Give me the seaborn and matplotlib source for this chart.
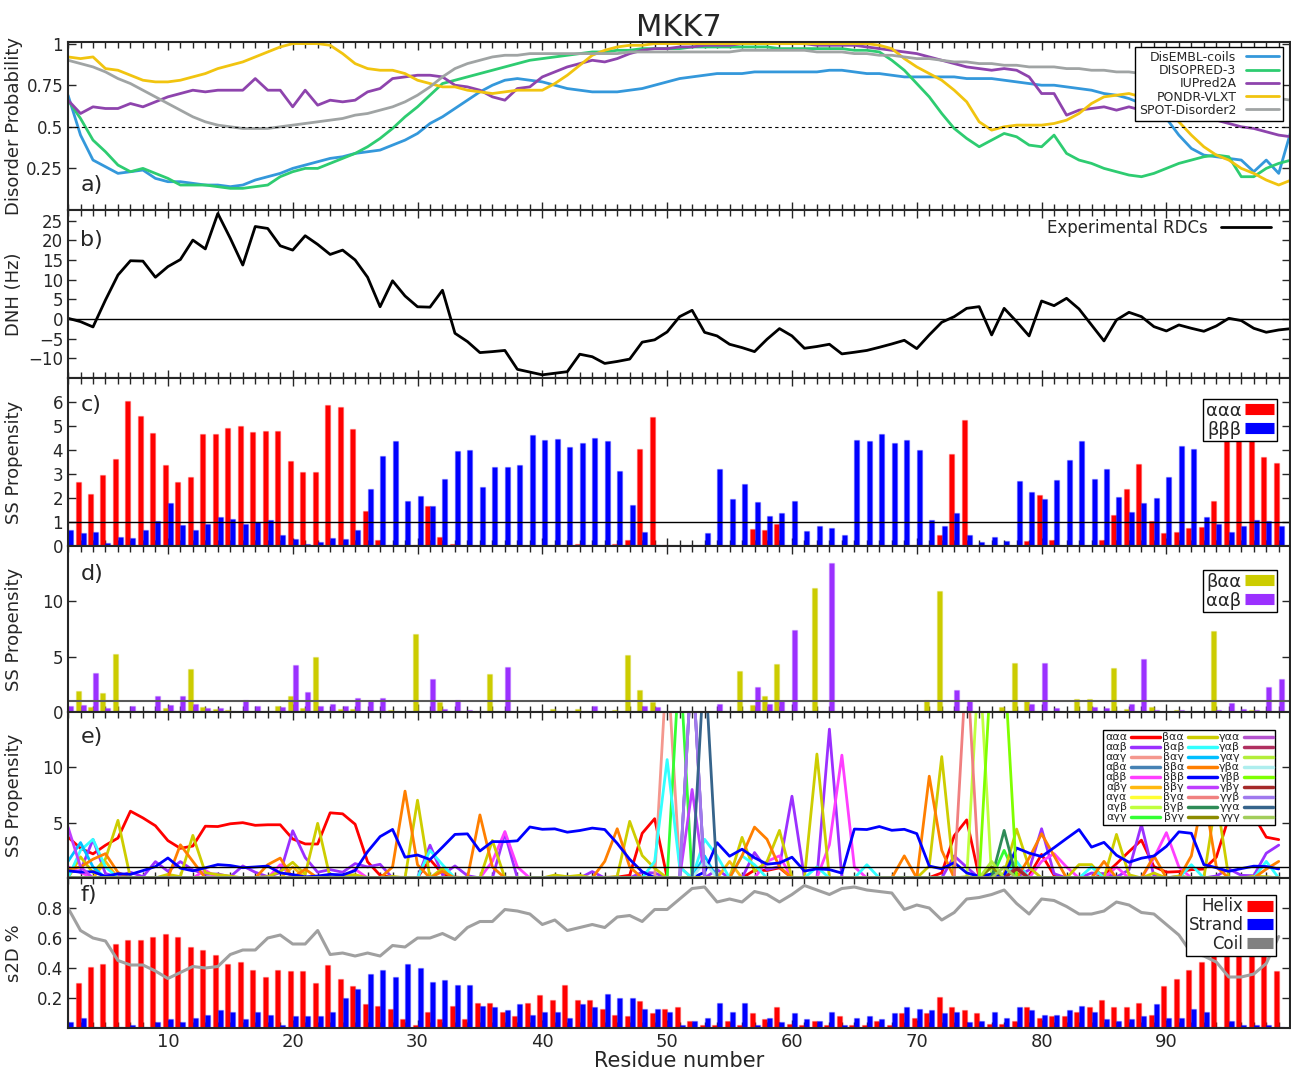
import numpy as np
import pandas as pd
import matplotlib
matplotlib.use("Agg")
import matplotlib.pyplot as plt
import seaborn as sns
from matplotlib.ticker import MultipleLocator
from matplotlib.lines import Line2D

# residue numbers
res_dis = np.arange(2, 101)   # disorder predictions and RDCs
res_ss = np.arange(2, 100)    # secondary structure propensities

# a) disorder predictors (res 2..100)
disembl = [0.69, 0.45, 0.30, 0.26, 0.22, 0.23, 0.24, 0.19, 0.17, 0.17,
           0.16, 0.15, 0.15, 0.14, 0.15, 0.18, 0.20, 0.22, 0.25, 0.27,
           0.29, 0.31, 0.32, 0.34, 0.35, 0.36, 0.39, 0.42, 0.46, 0.52,
           0.56, 0.61, 0.66, 0.71, 0.75, 0.78, 0.79, 0.78, 0.77, 0.75,
           0.73, 0.72, 0.71, 0.71, 0.71, 0.72, 0.73, 0.75, 0.77, 0.79,
           0.80, 0.81, 0.82, 0.82, 0.82, 0.83, 0.83, 0.83, 0.83, 0.83,
           0.83, 0.84, 0.84, 0.83, 0.82, 0.82, 0.81, 0.80, 0.80, 0.80,
           0.80, 0.80, 0.79, 0.79, 0.79, 0.78, 0.77, 0.76, 0.75, 0.75,
           0.74, 0.73, 0.72, 0.70, 0.69, 0.67, 0.64, 0.59, 0.55, 0.45,
           0.37, 0.33, 0.32, 0.31, 0.30, 0.23, 0.30, 0.22, 0.48]
disopred = [0.66, 0.55, 0.42, 0.35, 0.27, 0.23, 0.25, 0.22, 0.19, 0.15,
            0.15, 0.15, 0.14, 0.13, 0.13, 0.14, 0.15, 0.20, 0.23, 0.25,
            0.25, 0.28, 0.31, 0.34, 0.38, 0.43, 0.49, 0.56, 0.62, 0.69,
            0.76, 0.78, 0.80, 0.82, 0.84, 0.86, 0.88, 0.90, 0.91, 0.92,
            0.93, 0.94, 0.95, 0.95, 0.96, 0.96, 0.97, 0.97, 0.97, 0.97,
            0.98, 0.98, 0.98, 0.98, 0.98, 0.98, 0.98, 0.97, 0.97, 0.97,
            0.97, 0.97, 0.97, 0.96, 0.96, 0.95, 0.90, 0.84, 0.76, 0.68,
            0.58, 0.49, 0.43, 0.38, 0.42, 0.46, 0.44, 0.39, 0.38, 0.45,
            0.34, 0.30, 0.28, 0.25, 0.23, 0.21, 0.20, 0.22, 0.25, 0.28,
            0.30, 0.32, 0.33, 0.32, 0.20, 0.20, 0.25, 0.28, 0.30]
iupred = [0.66, 0.58, 0.62, 0.61, 0.61, 0.64, 0.62, 0.65, 0.68, 0.70,
          0.72, 0.71, 0.72, 0.72, 0.72, 0.79, 0.72, 0.72, 0.62, 0.72,
          0.63, 0.66, 0.65, 0.66, 0.71, 0.73, 0.79, 0.80, 0.81, 0.81,
          0.80, 0.75, 0.74, 0.72, 0.68, 0.66, 0.73, 0.74, 0.80, 0.83,
          0.86, 0.88, 0.90, 0.89, 0.91, 0.94, 0.96, 0.97, 0.97, 0.98,
          0.98, 0.99, 0.99, 0.99, 1.00, 1.00, 1.00, 1.00, 1.00, 1.00,
          0.99, 0.99, 0.99, 0.99, 0.98, 0.97, 0.96, 0.95, 0.94, 0.92,
          0.90, 0.88, 0.86, 0.85, 0.84, 0.85, 0.84, 0.80, 0.70, 0.70,
          0.57, 0.60, 0.61, 0.62, 0.60, 0.62, 0.60, 0.60, 0.58, 0.56,
          0.55, 0.55, 0.54, 0.52, 0.50, 0.49, 0.47, 0.45, 0.44]
pondr = [0.92, 0.91, 0.92, 0.85, 0.84, 0.81, 0.78, 0.77, 0.77, 0.78,
         0.80, 0.82, 0.85, 0.87, 0.89, 0.92, 0.95, 0.98, 1.00, 1.00,
         1.00, 0.99, 0.94, 0.88, 0.85, 0.84, 0.84, 0.82, 0.78, 0.76,
         0.74, 0.74, 0.72, 0.71, 0.70, 0.71, 0.72, 0.72, 0.72, 0.76,
         0.81, 0.87, 0.93, 0.96, 0.98, 0.99, 0.99, 1.00, 1.00, 1.00,
         1.00, 1.00, 1.00, 1.00, 1.00, 1.00, 1.00, 1.00, 1.00, 1.00,
         1.00, 1.00, 1.00, 1.00, 1.00, 0.99, 0.97, 0.91, 0.86, 0.82,
         0.78, 0.72, 0.65, 0.53, 0.48, 0.50, 0.51, 0.51, 0.51, 0.52,
         0.54, 0.58, 0.64, 0.68, 0.69, 0.70, 0.68, 0.64, 0.62, 0.53,
         0.45, 0.38, 0.33, 0.30, 0.25, 0.22, 0.18, 0.15, 0.18]
spot = [0.90, 0.88, 0.86, 0.83, 0.79, 0.76, 0.72, 0.68, 0.64, 0.60,
        0.56, 0.53, 0.51, 0.50, 0.49, 0.49, 0.49, 0.50, 0.51, 0.52,
        0.53, 0.54, 0.55, 0.57, 0.58, 0.60, 0.62, 0.65, 0.69, 0.74,
        0.80, 0.85, 0.88, 0.90, 0.92, 0.93, 0.93, 0.94, 0.94, 0.94,
        0.94, 0.94, 0.94, 0.94, 0.94, 0.95, 0.95, 0.95, 0.95, 0.95,
        0.95, 0.95, 0.95, 0.95, 0.96, 0.96, 0.96, 0.96, 0.96, 0.96,
        0.95, 0.95, 0.95, 0.94, 0.94, 0.93, 0.93, 0.92, 0.91, 0.91,
        0.90, 0.89, 0.89, 0.88, 0.88, 0.87, 0.87, 0.86, 0.86, 0.86,
        0.85, 0.85, 0.84, 0.84, 0.83, 0.83, 0.82, 0.81, 0.80, 0.79,
        0.78, 0.77, 0.75, 0.74, 0.72, 0.71, 0.69, 0.67, 0.66]
dis_names = ["DisEMBL-coils", "DISOPRED-3", "IUPred2A", "PONDR-VLXT", "SPOT-Disorder2"]
dis_colors = ["#3498db", "#2ecc71", "#8e44ad", "#f1c40f", "#a0a4a4"]

# b) experimental RDCs (res 2..100)
rdc = [0.17, -0.68, -2.03, 4.82, 11.17, 14.8, 14.7, 10.6, 13.3, 15.1,
       20.05, 17.8, 26.8, 20.5, 13.7, 23.5, 23.0, 18.6, 17.5, 21.15,
       18.95, 16.4, 17.5, 15.0, 10.6, 3.1, 9.7, 5.84, 3.1, 3.0,
       7.3, -3.64, -5.75, -8.55, -8.3, -8.0, -12.8, -13.5, -14.2, -13.8,
       -13.4, -8.96, -9.6, -11.3, -10.8, -10.2, -5.9, -5.3, -3.3, 0.59,
       2.2, -3.4, -4.31, -6.43, -7.28, -8.3, -5.16, -2.45, -4.31, -7.45,
       -7.0, -6.43, -8.88, -8.46, -8.0, -7.2, -6.35, -5.42, -7.53, -4.06,
       -0.84, 0.59, 2.7, 3.13, -4.06, 2.7, -0.68, -4.31, 4.57, 3.38,
       5.25, 2.54, -1.52, -5.58, -0.25, 1.69, 0.59, -1.95, -3.05, -1.52,
       -2.37, -3.13, -1.78, 0.17, -0.42, -2.37, -3.38, -2.79, -2.45]

# c)-e) SS propensities (res 2..99)
aaa = [3.7, 2.68, 2.18, 2.96, 3.61, 6.04, 5.43, 4.72, 3.38, 2.68,
       2.89, 4.68, 4.65, 4.90, 5.00, 4.76, 4.81, 4.81, 3.53, 3.08,
       3.07, 5.89, 5.80, 4.86, 1.46, 0.25, 0.06, 0.06, 0.05, 1.67,
       0.39, 0.08, 0.02, 0.0, 0.0, 0.0, 0.02, 0.0, 0.02, 0.04,
       0.04, 0.07, 0.03, 0.06, 0.08, 0.25, 4.04, 5.36, 0.04, 0.0,
       0.0, 0.03, 0.0, 0.0, 0.0, 0.71, 0.68, 0.92, 0.01, 0.02,
       0.03, 0.0, 0.0, 0.0, 0.0, 0.0, 0.0, 0.0, 0.03, 0.04,
       0.46, 3.82, 5.25, 0.06, 0.0, 0.0, 0.0, 0.21, 2.13, 0.24,
       0.0, 0.0, 0.0, 0.24, 1.29, 2.38, 3.42, 1.03, 0.53, 0.58,
       0.75, 0.81, 1.88, 5.5, 5.8, 5.6, 3.69, 3.47]
bbb = [0.65, 0.53, 0.57, 0.14, 0.39, 0.33, 0.67, 1.03, 1.81, 0.89,
       0.65, 0.92, 1.21, 1.13, 0.93, 1.00, 1.08, 0.46, 0.31, 0.10,
       0.18, 0.33, 0.28, 0.67, 2.38, 3.74, 4.39, 1.88, 2.08, 1.67,
       2.79, 3.94, 3.99, 2.44, 3.29, 3.28, 3.36, 4.61, 4.40, 4.44,
       4.14, 4.29, 4.51, 4.38, 3.13, 1.69, 0.57, 0.04, 0.0, 0.0,
       0.0, 0.53, 3.19, 1.97, 2.60, 1.83, 1.25, 1.36, 1.88, 0.63,
       0.83, 0.76, 0.44, 4.42, 4.38, 4.65, 4.31, 4.40, 4.01, 1.08,
       0.83, 1.39, 0.46, 0.15, 0.36, 0.19, 2.71, 2.25, 1.94, 2.74,
       3.57, 4.38, 2.79, 3.22, 2.06, 1.42, 1.79, 1.99, 2.86, 4.17,
       4.04, 1.21, 0.93, 0.60, 0.85, 1.07, 1.04, 0.82]
baa = [0.0, 1.91, 0.48, 1.73, 5.21, 0.0, 0.0, 0.0, 0.33, 0.12,
       3.85, 0.48, 0.30, 0.18, 0.0, 0.06, 0.12, 0.58, 1.42, 0.33,
       4.94, 0.0, 0.24, 0.30, 0.0, 0.0, 0.15, 0.0, 7.03, 0.0,
       0.88, 0.0, 0.0, 0.0, 3.39, 0.0, 0.0, 0.0, 0.0, 0.27,
       0.12, 0.24, 0.0, 0.0, 0.15, 5.12, 2.03, 0.88, 0.0, 0.0,
       0.0, 0.0, 0.0, 0.0, 3.67, 0.60, 1.48, 4.30, 0.0, 0.0,
       11.2, 0.0, 0.0, 0.0, 0.0, 0.0, 0.0, 0.0, 0.0, 1.09,
       10.97, 0.0, 0.12, 0.0, 0.0, 0.42, 4.42, 0.97, 0.0, 0.0,
       0.0, 1.21, 1.21, 0.0, 3.94, 0.30, 0.0, 0.45, 0.0, 0.18,
       0.0, 0.0, 7.30, 0.0, 0.0, 0.15, 0.12, 0.0]
aab = [0.52, 0.67, 3.48, 0.39, 0.12, 0.52, 0.12, 1.48, 0.61, 1.48,
       0.73, 0.33, 0.36, 0.12, 1.09, 0.52, 0.12, 0.48, 4.27, 1.85,
       0.52, 0.76, 0.52, 1.30, 1.00, 1.24, 0.0, 0.0, 0.0, 2.97,
       0.30, 1.09, 0.21, 0.0, 0.0, 4.03, 0.0, 0.0, 0.0, 0.0,
       0.09, 0.0, 0.58, 0.0, 0.0, 0.0, 0.52, 0.45, 0.0, 0.0,
       0.0, 0.0, 0.76, 0.0, 0.0, 2.30, 0.76, 1.03, 7.39, 0.0,
       0.0, 13.45, 0.0, 0.0, 0.0, 0.0, 0.0, 0.0, 0.0, 0.0,
       0.0, 2.00, 0.97, 0.0, 0.0, 0.0, 0.12, 0.73, 4.45, 0.39,
       0.0, 0.0, 0.45, 0.39, 0.09, 0.73, 4.82, 0.18, 0.0, 0.15,
       0.0, 0.0, 0.18, 0.82, 0.24, 0.21, 2.24, 2.97]

# e) remaining triplets, only the residues where they stand out (others ~0)
abb = {2: 1.0, 3: 0.5, 13: 0.7, 19: 1.2, 25: 0.8, 36: 1.5, 37: 4.2, 38: 1.0,
       58: 1.5, 59: 2.0, 63: 3.0, 64: 11.1, 65: 1.0, 80: 1.5, 81: 2.2, 82: 1.0,
       86: 1.0, 89: 1.8, 90: 4.1, 91: 1.0}
bba = {2: 0.8, 3: 1.0, 4: 1.7, 5: 2.2, 6: 0.5, 11: 3.0, 12: 1.5, 18: 1.2,
       19: 1.8, 21: 0.8, 28: 1.0, 29: 7.85, 30: 1.2, 32: 0.6, 35: 5.7, 36: 1.0,
       45: 1.5, 46: 4.45, 47: 1.0, 56: 2.0, 57: 4.6, 58: 3.5, 59: 1.0, 69: 2.0,
       71: 9.2, 72: 2.5, 79: 1.8, 80: 4.0, 81: 2.0, 85: 1.5, 89: 2.0, 92: 2.0,
       93: 7.8, 94: 1.0, 98: 0.8, 99: 1.5}
bab = {3: 2.5, 4: 3.5, 5: 1.0, 31: 2.5, 32: 1.2, 49: 1.5, 50: 10.7, 51: 1.0,
       53: 3.5, 54: 2.0, 56: 2.0, 57: 1.2, 62: 1.0, 66: 1.2, 76: 1.0, 78: 1.5,
       84: 1.0, 92: 1.2, 98: 1.5}
aag = {50: 20.0, 51: 1.0}
aba = {52: 20.0}
abg = {5: 1.5, 20: 1.0, 55: 1.5, 77: 1.0}
aga = {76: 1.0}
agb = {75: 20.0}
agg = {51: 20.0, 77: 2.5}
bag = {2: 1.5, 3: 3.2, 4: 1.0, 53: 2.0}
bbg = {2: 4.6, 3: 1.0, 52: 8.0}
bga = {74: 20.0}
bgb = {77: 4.3}
bgg = {76: 1.0}
gaa = {52: 20.0}
gab = {78: 1.0}
gag = {76: 1.5}
gba = {53: 1.5}
gbb = {76: 20.0, 77: 20.0}
gbg = {78: 0.8}
ggb = {52: 20.0}
gga = {53: 20.0}
ggg = {77: 1.0}

# f) s2D populations (res 2..99)
helix = [0.21, 0.30, 0.41, 0.43, 0.56, 0.59, 0.59, 0.61, 0.63, 0.61,
         0.54, 0.52, 0.49, 0.43, 0.44, 0.39, 0.34, 0.39, 0.38, 0.38,
         0.30, 0.42, 0.33, 0.28, 0.16, 0.15, 0.13, 0.06, 0.02, 0.11,
         0.06, 0.15, 0.06, 0.17, 0.17, 0.11, 0.08, 0.17, 0.22, 0.19,
         0.29, 0.19, 0.19, 0.13, 0.09, 0.08, 0.18, 0.10, 0.13, 0.14,
         0.05, 0.02, 0.02, 0.05, 0.02, 0.10, 0.06, 0.14, 0.03, 0.02,
         0.05, 0.02, 0.08, 0.02, 0.02, 0.05, 0.02, 0.10, 0.07, 0.10,
         0.21, 0.14, 0.12, 0.10, 0.03, 0.03, 0.05, 0.14, 0.07, 0.08,
         0.08, 0.11, 0.14, 0.19, 0.14, 0.14, 0.17, 0.09, 0.28, 0.33,
         0.39, 0.44, 0.58, 0.62, 0.64, 0.62, 0.57, 0.38]
strand = [0.04, 0.07, 0.01, 0.01, 0.01, 0.02, 0.01, 0.04, 0.06, 0.04,
          0.07, 0.09, 0.12, 0.11, 0.06, 0.11, 0.09, 0.02, 0.08, 0.08,
          0.08, 0.11, 0.20, 0.26, 0.36, 0.39, 0.34, 0.43, 0.40, 0.31,
          0.32, 0.29, 0.29, 0.15, 0.14, 0.12, 0.16, 0.09, 0.11, 0.11,
          0.07, 0.16, 0.14, 0.23, 0.20, 0.20, 0.13, 0.13, 0.11, 0.02,
          0.05, 0.07, 0.17, 0.11, 0.17, 0.02, 0.07, 0.04, 0.10, 0.06,
          0.05, 0.11, 0.02, 0.07, 0.08, 0.06, 0.10, 0.14, 0.13, 0.12,
          0.10, 0.11, 0.04, 0.05, 0.11, 0.07, 0.14, 0.12, 0.09, 0.09,
          0.12, 0.15, 0.11, 0.06, 0.05, 0.06, 0.08, 0.16, 0.07, 0.07,
          0.13, 0.11, 0.01, 0.05, 0.02, 0.02, 0.02, 0.01]
coil = [0.80, 0.65, 0.60, 0.58, 0.45, 0.42, 0.42, 0.38, 0.33, 0.37,
        0.41, 0.40, 0.41, 0.49, 0.52, 0.52, 0.60, 0.62, 0.56, 0.56,
        0.65, 0.49, 0.50, 0.48, 0.50, 0.48, 0.55, 0.54, 0.60, 0.60,
        0.63, 0.59, 0.67, 0.71, 0.71, 0.79, 0.78, 0.76, 0.69, 0.72,
        0.65, 0.67, 0.69, 0.67, 0.74, 0.75, 0.71, 0.79, 0.79, 0.86,
        0.93, 0.94, 0.84, 0.86, 0.84, 0.91, 0.89, 0.84, 0.89, 0.95,
        0.92, 0.89, 0.93, 0.94, 0.92, 0.91, 0.90, 0.79, 0.82, 0.80,
        0.72, 0.77, 0.86, 0.87, 0.89, 0.92, 0.83, 0.76, 0.86, 0.85,
        0.81, 0.76, 0.76, 0.78, 0.84, 0.82, 0.77, 0.76, 0.69, 0.62,
        0.50, 0.48, 0.44, 0.34, 0.34, 0.36, 0.43, 0.61]

sns.set_style("ticks")
plt.rcParams["font.family"] = ["DejaVu Sans"]


def bar_legend(ax, colors, labels, size, anchor):
    hs = [Line2D([], [], color=c, lw=8, solid_capstyle="butt") for c in colors]
    ax.legend(hs, labels, loc="upper right", markerfirst=False, fontsize=size,
              handlelength=1.6, labelspacing=0.05, borderpad=0.15, handletextpad=0.2,
              borderaxespad=0, fancybox=False, edgecolor="k", framealpha=1,
              bbox_to_anchor=anchor)


fig = plt.figure(figsize=(12.91, 10.76), dpi=100)
gs = fig.add_gridspec(6, 1, height_ratios=[168, 168, 168, 166, 166, 150], hspace=0,
                      left=0.0527, right=0.9992, top=0.961, bottom=0.0446)
axes = [fig.add_subplot(gs[i]) for i in range(6)]

for ax in axes:
    ax.set_xlim(2, 99.9)
    ax.xaxis.set_major_locator(MultipleLocator(10))
    ax.xaxis.set_minor_locator(MultipleLocator(1))
    ax.tick_params(which="both", direction="in", top=True, right=True, labelsize=12, width=1)
    ax.tick_params(which="major", length=6)
    ax.tick_params(which="minor", length=4)
    for s in ax.spines.values():
        s.set_linewidth(1.5)
    ax.set_xlabel("")
    if ax is not axes[-1]:
        ax.tick_params(labelbottom=False)
    ax.yaxis.set_label_coords(-0.037, 0.5)

# a) disorder
ax = axes[0]
df_a = pd.DataFrame({"res": np.tile(res_dis, 5),
                     "p": disembl + disopred + iupred + pondr + spot,
                     "method": np.repeat(dis_names, len(res_dis))})
sns.lineplot(data=df_a, x="res", y="p", hue="method", hue_order=dis_names,
             palette=dis_colors, lw=2, legend=False, ax=ax)
ax.axhline(0.5, color="k", ls="--", lw=0.8, dashes=(3, 3))
ax.set_ylim(0, 1.01)
ax.set_yticks([0.25, 0.5, 0.75, 1])
ax.set_yticklabels(["0.25", "0.5", "0.75", "1"])
ax.set_ylabel("Disorder Probability", fontsize=13)
ax.set_title("MKK7", fontsize=22, pad=3)
h = [Line2D([], [], color=c, lw=2) for c in dis_colors]
ax.legend(h, dis_names, loc="upper right", markerfirst=False, fontsize=9,
          handlelength=2.6, labelspacing=0.02, borderpad=0.3, borderaxespad=0,
          fancybox=False, edgecolor="k", framealpha=1, bbox_to_anchor=(0.994, 0.97))
ax.text(0.01, 0.15, "a)", transform=ax.transAxes, fontsize=16, va="center")

# b) RDCs
ax = axes[1]
sns.lineplot(x=res_dis, y=rdc, color="k", lw=2, ax=ax)
ax.axhline(0, color="k", lw=1)
ax.set_ylim(-15, 27.7)
ax.set_yticks([-10, -5, 0, 5, 10, 15, 20, 25])
ax.set_ylabel("DNH (Hz)", fontsize=13)
ax.legend([Line2D([], [], color="k", lw=2)], ["Experimental RDCs"], loc="upper right",
          markerfirst=False, frameon=False, fontsize=12, handlelength=3,
          bbox_to_anchor=(0.997, 1.035))
ax.text(0.01, 0.82, "b)", transform=ax.transAxes, fontsize=16, va="center")

# c) ααα / βββ
ax = axes[2]
ax.bar(res_ss - 0.2, aaa, width=0.4, color="red", edgecolor=(1, 0, 0, 0.25), lw=1)
ax.bar(res_ss + 0.2, bbb, width=0.4, color="blue", edgecolor=(0, 0, 1, 0.25), lw=1)
ax.axhline(1, color="k", lw=1)
ax.set_ylim(0, 7)
ax.set_yticks(range(0, 7))
ax.set_ylabel("SS Propensity", fontsize=13)
bar_legend(ax, ["red", "blue"], ["ααα", "βββ"], 13, (0.9894, 0.875))
ax.text(0.01, 0.84, "c)", transform=ax.transAxes, fontsize=16, va="center")

# d) βαα / ααβ
ax = axes[3]
ax.bar(res_ss - 0.2, baa, width=0.4, color="#cccc00", edgecolor=(0.8, 0.8, 0, 0.25), lw=1)
ax.bar(res_ss + 0.2, aab, width=0.4, color="#9b30ff", edgecolor=(0.6, 0.2, 1, 0.25), lw=1)
ax.axhline(1, color="0.35", lw=1.5)
ax.set_ylim(0, 15)
ax.set_yticks([0, 5, 10])
ax.set_ylabel("SS Propensity", fontsize=13)
bar_legend(ax, ["#cccc00", "#9b30ff"], ["βαα", "ααβ"], 13, (0.989, 0.855))
ax.text(0.01, 0.83, "d)", transform=ax.transAxes, fontsize=16, va="center")

# e) all 27 triplets
ax = axes[4]
sparse = {"αββ": abb, "ββα": bba, "βαβ": bab, "ααγ": aag, "αβα": aba, "αβγ": abg,
          "αγα": aga, "αγβ": agb, "αγγ": agg, "βαγ": bag, "ββγ": bbg, "βγα": bga,
          "βγβ": bgb, "βγγ": bgg, "γαα": gaa, "γαβ": gab, "γαγ": gag, "γβα": gba,
          "γββ": gbb, "γβγ": gbg, "γγβ": ggb, "γγα": gga, "γγγ": ggg}
e_series = {"ααα": aaa, "ααβ": aab, "βαα": baa, "βββ": bbb}
for k, d in sparse.items():
    e_series[k] = [d.get(r, 0.0) for r in res_ss]
e_order = ["ααα", "ααβ", "ααγ", "αβα", "αββ", "αβγ", "αγα", "αγβ", "αγγ",
           "βαα", "βαβ", "βαγ", "ββα", "βββ", "ββγ", "βγα", "βγβ", "βγγ",
           "γαα", "γαβ", "γαγ", "γβα", "γββ", "γβγ", "γγβ", "γγα", "γγγ"]
e_colors = ["#ff0000", "#9b30ff", "#f4978e", "#4682b4", "#ff3eff", "#ffb90f", "#ffff33", "#c0ff3e", "#33ff33",
            "#cdcd00", "#33ffff", "#00bfff", "#ff7f00", "#0000ff", "#bf3eff", "#f08080", "#2e8b57", "#8b8b00",
            "#b452cd", "#b03060", "#b3ee3a", "#aeeeee", "#7fff00", "#a52a2a", "#9f79ee", "#36648b", "#a2cd5a"]
df_e = pd.DataFrame({"res": np.tile(res_ss, len(e_order)),
                     "v": np.concatenate([e_series[k] for k in e_order]),
                     "trip": np.repeat(e_order, len(res_ss))})
sns.lineplot(data=df_e, x="res", y="v", hue="trip", hue_order=e_order,
             palette=e_colors, lw=2, legend=False, ax=ax)
ax.axhline(1, color="k", lw=1)
ax.set_ylim(0, 15)
ax.set_yticks([5, 10])
ax.set_ylabel("SS Propensity", fontsize=13)
he = [Line2D([], [], color=c, lw=2.5) for c in e_colors]
ax.legend(he, e_order, ncol=3, loc="upper right", markerfirst=False, fontsize=8,
          handlelength=2.6, labelspacing=0.0, columnspacing=0.2, handletextpad=0.35,
          borderpad=0.2, borderaxespad=0, fancybox=False, edgecolor="k", framealpha=1,
          bbox_to_anchor=(0.988, 0.89))
ax.text(0.01, 0.85, "e)", transform=ax.transAxes, fontsize=16, va="center")

# f) s2D
ax = axes[5]
ax.bar(res_ss - 0.2, helix, width=0.4, color="red", edgecolor=(1, 0, 0, 0.25), lw=1)
ax.bar(res_ss + 0.2, strand, width=0.4, color="blue", edgecolor=(0, 0, 1, 0.25), lw=1)
sns.lineplot(x=res_ss, y=coil, color="#a0a0a0", lw=2.2, ax=ax)
ax.set_ylim(0, 1)
ax.set_yticks([0.2, 0.4, 0.6, 0.8])
ax.set_ylabel("s2D %", fontsize=13)
bar_legend(ax, ["red", "blue", "#808080"], ["Helix", "Strand", "Coil"], 12, (0.9885, 0.887))
ax.text(0.01, 0.887, "f)", transform=ax.transAxes, fontsize=16, va="center")
ax.set_xlabel("Residue number", fontsize=15, labelpad=0)
ax.tick_params(axis="x", labelsize=13)

fig.savefig("out.png", dpi=100)
